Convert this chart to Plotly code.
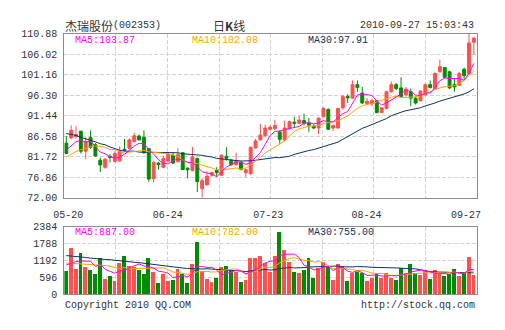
import plotly.graph_objects as go

W, H = 505, 330

# ---------------- data ----------------
opens = [84.96, 86.2, 86.49, 87.78, 83.05, 86.26, 84.58, 80.92, 79.24, 81.83,
         80.6, 80.77, 83.5, 83.74, 85.34, 86.64, 86.33, 83.66, 76.57, 80.23,
         79.24, 80.69, 82.06, 80.54, 82.67, 79.0, 78.48, 81.3, 74.13, 75.05,
         77.34, 78.48, 77.34, 81.83, 80.92, 79.85, 80.31, 77.95, 77.72, 83.82,
         85.72, 86.71, 88.24, 88.39, 87.63, 85.72, 88.39, 89.92, 89.69, 90.3,
         89.76, 89.0, 88.54, 91.21, 92.96, 88.54, 88.54, 93.35, 96.01, 95.63,
         98.84, 96.85, 94.34, 94.26, 95.02, 92.2, 93.19, 97.16, 98.84, 98.07,
         96.4, 97.16, 95.63, 95.02, 96.4, 98.84, 97.92, 101.88, 102.88, 101.88,
         98.84, 98.68, 102.5, 101.5, 108.9]
highs = [86.64, 89.15, 89.0, 87.9, 86.33, 88.0, 84.96, 81.53, 81.5, 82.3,
         83.0, 84.2, 85.95, 86.1, 87.4, 87.0, 88.0, 83.82, 80.77, 80.54,
         81.9, 82.83, 82.67, 83.74, 82.83, 79.24, 84.05, 81.53, 76.57, 78.25,
         78.2, 79.24, 82.29, 83.97, 81.15, 82.67, 80.69, 78.86, 84.2, 85.95,
         89.53, 89.31, 89.15, 90.53, 88.0, 90.3, 90.3, 91.21, 91.44, 91.97,
         90.91, 89.38, 91.06, 93.5, 93.19, 89.38, 93.35, 96.4, 96.55, 99.83,
         99.83, 98.3, 95.63, 95.48, 95.25, 93.5, 97.39, 99.6, 99.22, 100.59,
         98.3, 97.92, 96.01, 97.54, 99.06, 99.83, 101.73, 104.78, 103.03, 102.11,
         100.21, 101.88, 102.88, 110.88, 110.1]
lows = [82.3, 85.9, 86.1, 82.5, 81.15, 83.6, 81.76, 78.1, 78.86, 80.4,
        80.4, 80.54, 83.0, 83.44, 85.11, 85.57, 82.44, 75.81, 75.58, 78.7,
        79.0, 80.39, 80.0, 80.39, 78.63, 76.57, 78.25, 73.37, 72.0, 74.9,
        77.0, 76.96, 77.18, 80.77, 79.62, 79.62, 78.48, 76.96, 77.34, 83.66,
        85.57, 86.49, 88.0, 88.0, 84.81, 85.34, 88.24, 88.62, 89.38, 89.15,
        87.63, 88.31, 87.1, 91.06, 88.16, 87.86, 88.39, 92.89, 94.49, 95.48,
        97.16, 94.26, 93.96, 93.73, 92.05, 92.13, 92.96, 96.93, 97.54, 95.63,
        96.01, 93.73, 94.11, 94.87, 96.24, 97.92, 97.77, 101.73, 100.36, 97.77,
        97.16, 98.53, 100.21, 101.3, 105.9]
closes = [82.52, 88.0, 87.02, 83.05, 85.34, 83.97, 81.91, 79.78, 81.15, 81.6,
          82.52, 83.05, 83.28, 85.72, 86.71, 85.72, 82.67, 76.42, 80.39, 79.85,
          81.3, 82.29, 80.23, 82.22, 78.7, 78.63, 81.68, 75.81, 76.04, 77.1,
          77.95, 77.95, 82.06, 81.38, 79.85, 80.84, 78.7, 78.63, 83.97, 85.49,
          86.87, 88.54, 88.77, 89.15, 85.87, 88.54, 90.07, 89.69, 90.45, 89.69,
          89.23, 88.54, 90.91, 93.19, 88.24, 89.15, 93.19, 96.01, 95.71, 98.84,
          98.15, 94.49, 94.87, 95.02, 92.2, 93.35, 97.16, 98.84, 97.92, 96.01,
          97.77, 95.63, 94.49, 97.31, 98.84, 98.15, 101.5, 103.1, 100.59, 98.07,
          98.3, 101.5, 100.97, 108.75, 109.9]
volumes = [817, 1646, 885, 1453, 965, 851, 715, 1294, 545, 647,
           477, 1124, 1362, 1022, 988, 851, 715, 1271, 795, 420,
           715, 477, 511, 908, 715, 420, 1090, 1839, 817, 545,
           443, 590, 988, 1022, 817, 800, 443, 511, 1271, 1271,
           1362, 1101, 795, 1362, 2191, 1567, 1135, 795, 761, 851,
           1271, 590, 931, 1135, 988, 514, 1082, 991, 480, 764,
           798, 764, 480, 571, 775, 594, 741, 594, 514, 945,
           764, 1082, 764, 684, 855, 537, 855, 764, 650, 707,
           911, 650, 741, 1331, 684]

# moving-average values before enough history is on the chart
ma5_head = [83.3, 84.4, 85.3, 85.6]
ma10_head = [81.6, 82.3, 83.0, 83.4, 83.8, 84.1, 84.3, 84.2, 84.0]
ma30_head = [87.25, 87.1, 86.79, 86.33, 86.03, 85.57, 85.27, 84.81, 84.58, 84.05,
             83.59, 83.28, 83.05, 83.05, 83.05, 82.83, 82.83, 82.83, 82.83, 82.83,
             82.67, 82.67, 82.67, 82.67, 82.44, 82.37, 82.22, 82.14, 82.06]
vma5_head = [1030, 1100, 1150, 1170]
vma10_head = [1100, 1090, 1080, 1070, 1060, 1050, 1040, 1030, 1010]
vma30_head = [1362, 1351, 1340, 1328, 1294, 1271, 1249, 1249, 1226, 1215,
              1192, 1181, 1158, 1135, 1124, 1112, 1090, 1067, 1044, 1022,
              988, 965, 954, 931, 920, 908, 897, 897, 885]

price_ticks = [72.00, 76.86, 81.72, 86.58, 91.44, 96.30, 101.16, 106.02, 110.88]
vol_ticks = [0, 596, 1192, 1788, 2384]
date_labels = ["05-20", "06-24", "07-23", "08-24", "09-27"]
date_pos = [0.4, 20.9, 41.6, 61.9, 82.4]
grid_pos = [10.225, 20.85, 31.475, 42.1, 52.725, 63.35, 73.975]

title_name = "杰瑞股份"
title_code = "(002353)"
title_kind = "日<b>K</b>线"
timestamp = "2010-09-27 15:03:43"
ma_price_text = ["MA5:103.87", "MA10:102.08", "MA30:97.91"]
ma_vol_text = ["MA5:887.00", "MA10:782.00", "MA30:755.00"]

# ---------------- styling ----------------
RED = "#ff5050"
GREEN = "#008c00"
C5 = "#ff00ff"
C10 = "#ffa500"
C30 = "#0d3366"
GRID = "#d3d3d3"
FRAME = "#8c8c8c"
TXT = "#333333"
MONO = "Liberation Mono, DejaVu Sans Mono, monospace"
CJK = "Noto Sans CJK SC"


def moving_avg(vals, n, head):
    out = list(head)
    for i in range(len(head), len(vals)):
        out.append(sum(vals[i - n + 1:i + 1]) / n)
    return out


n = len(closes)
xs = list(range(n))
ma5 = moving_avg(closes, 5, ma5_head)
ma10 = moving_avg(closes, 10, ma10_head)
ma30 = moving_avg(closes, 30, ma30_head)
vma5 = moving_avg(volumes, 5, vma5_head)
vma10 = moving_avg(volumes, 10, vma10_head)
vma30 = moving_avg(volumes, 30, vma30_head)
vcolors = [RED if c >= o else GREEN for o, c in zip(opens, closes)]

fig = go.Figure()
fig.add_trace(go.Candlestick(
    x=xs, open=opens, high=highs, low=lows, close=closes,
    increasing=dict(line=dict(color=RED, width=1), fillcolor=RED),
    decreasing=dict(line=dict(color=GREEN, width=1), fillcolor=GREEN),
    whiskerwidth=0, xaxis="x", yaxis="y", showlegend=False, hoverinfo="skip"))
for vals, col in [(ma30, C30), (ma10, C10), (ma5, C5)]:
    fig.add_trace(go.Scatter(x=xs, y=vals, mode="lines", line=dict(color=col, width=1),
                             xaxis="x", yaxis="y", showlegend=False, hoverinfo="skip"))

fig.add_trace(go.Bar(x=xs, y=volumes, marker=dict(color=vcolors, line=dict(width=0)),
                     width=0.8, xaxis="x2", yaxis="y2", showlegend=False, hoverinfo="skip"))
for vals, col in [(vma30, C30), (vma10, C10), (vma5, C5)]:
    fig.add_trace(go.Scatter(x=xs, y=vals, mode="lines", line=dict(color=col, width=1),
                             xaxis="x2", yaxis="y2", showlegend=False, hoverinfo="skip"))

x0p, x1p = 55 / W, 480 / W
xr = [-0.4, n - 0.4]
common_x = dict(range=xr, domain=[x0p, x1p], showline=True, linecolor=FRAME, linewidth=1,
                mirror=True, zeroline=False, fixedrange=True,
                minor=dict(tickvals=grid_pos, showgrid=True, gridcolor=GRID,
                           griddash="4px,2px", gridwidth=1, ticks=""))

fig.update_layout(
    width=W, height=H, margin=dict(l=0, r=0, t=0, b=0),
    paper_bgcolor="white", plot_bgcolor="white",
    boxgap=0.4, boxgroupgap=0, bargap=0,
    xaxis=dict(**common_x, anchor="y", showgrid=False, tickmode="array", tickvals=date_pos,
               ticktext=date_labels, ticks="", ticklabelstandoff=7,
               tickfont=dict(family=MONO, size=10, color=TXT),
               rangeslider=dict(visible=False)),
    yaxis=dict(domain=[1 - 200 / H, 1 - 30 / H], range=[72, 110.88], anchor="x",
               showline=True, linecolor=FRAME, linewidth=1, mirror=True, zeroline=False,
               tickmode="array", tickvals=price_ticks,
               ticktext=[f"{v:.2f}" for v in price_ticks], ticks="",
               ticklabelstandoff=4,
               showgrid=True, gridcolor=GRID, griddash="4px,2px", gridwidth=1,
               tickfont=dict(family=MONO, size=10, color=TXT), fixedrange=True),
    xaxis2=dict(**common_x, anchor="y2", showgrid=False, showticklabels=False, ticks=""),
    yaxis2=dict(domain=[1 - 300 / H, 1 - 230 / H], range=[0, 2384], anchor="x2",
                showline=True, linecolor=FRAME, linewidth=1, mirror=True, zeroline=False,
                tickmode="array", tickvals=vol_ticks, ticktext=[str(v) for v in vol_ticks],
                ticks="", ticklabelstandoff=4,
                showgrid=True, gridcolor=GRID, griddash="4px,2px", gridwidth=1,
                tickfont=dict(family=MONO, size=10, color=TXT), fixedrange=True),
)


def ann(text, px, py, color=TXT, size=10, family=MONO, xanchor="left"):
    fig.add_annotation(text=text, x=px / W, y=1 - py / H, xref="paper", yref="paper",
                       showarrow=False, xanchor=xanchor, yanchor="middle",
                       font=dict(family=family, size=size, color=color))


ann(title_name, 54, 21, family=CJK, size=12)
ann(title_code, 103, 21)
ann(title_kind, 225, 21, family=CJK, size=12, xanchor="center")
ann(timestamp, 479, 21, xanchor="right")
ann(ma_price_text[0], 64, 37, color=C5)
ann(ma_price_text[1], 184, 37, color=C10)
ann(ma_price_text[2], 304, 37, color=C30)
ann(ma_vol_text[0], 64, 236, color=C5)
ann(ma_vol_text[1], 184, 236, color=C10)
ann(ma_vol_text[2], 304, 236, color=C30)
ann("Copyright 2010 QQ.COM", 54, 312)
ann("http://stock.qq.com", 480, 312, xanchor="right")

fig.write_html("out.html")
